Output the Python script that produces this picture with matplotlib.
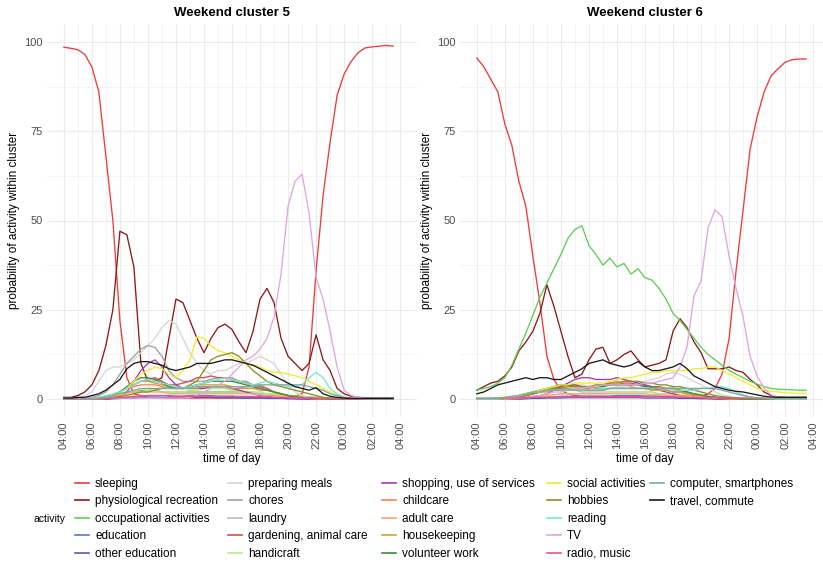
import matplotlib
matplotlib.use("Agg")
import matplotlib.pyplot as plt
from matplotlib.lines import Line2D
import numpy as np

plt.rcParams['font.family'] = ['Liberation Sans', 'DejaVu Sans']

# half-hour steps from 04:00 to 03:30 next day (hours after 04:00)
hours = np.arange(48) * 0.5
tick_hours = list(range(0, 25, 2))
tick_labels = ["04:00", "06:00", "08:00", "10:00", "12:00", "14:00", "16:00",
               "18:00", "20:00", "22:00", "00:00", "02:00", "04:00"]

activities = ["sleeping", "physiological recreation", "occupational activities",
              "education", "other education", "preparing meals", "chores", "laundry",
              "gardening, animal care", "handicraft", "shopping, use of services",
              "childcare", "adult care", "housekeeping", "volunteer work",
              "social activities", "hobbies", "reading", "TV", "radio, music",
              "computer, smartphones", "travel, commute"]
colors = ["#EE3B3B", "#8B1A1A", "#5FCF55", "#6272CC", "#5858B8", "#D6D6D6",
          "#A0A0A0", "#BEBEBE", "#CD4F4F", "#B4EE84", "#A63AC0", "#FF7F50",
          "#FFA07A", "#CDA03C", "#3A8E3A", "#EEEE30", "#8E8E20", "#7AE6D6",
          "#E0A6E0", "#F0508C", "#7FA8A0", "#1A1A1A"]

# ---- cluster 5 ----
sleeping_c5 = [98.5, 98.2, 97.8, 96.5, 93, 86, 68, 50,
               22, 6, 1.5, 1, 0.5, 0.5, 0.4, 0.3,
               0.3, 0.3, 0.3, 0.3, 0.3, 0.3, 0.3, 0.3,
               0.3, 0.3, 0.3, 0.3, 0.3, 0.3, 0.4, 0.5,
               0.5, 0.8, 1.5, 9, 36, 57, 72, 85,
               91, 94.5, 97, 98.3, 98.6, 98.8, 99, 98.8]
physio_c5 = [0.5, 0.5, 1, 2, 4, 8, 15, 25,
             47, 46, 37, 10, 5, 5, 6, 17,
             28, 27, 22, 17, 13, 17, 20, 21,
             19.5, 16, 13, 19, 28, 31, 27, 17,
             12, 10, 8, 10, 18, 11, 8, 3,
             1.5, 0.8, 0.5, 0.4, 0.4, 0.4, 0.4, 0.4]
occupational_c5 = [0.3, 0.3, 0.3, 0.3, 0.5, 0.5, 0.8, 1,
                   1.5, 2, 2, 2.5, 2.5, 2.5, 2, 2,
                   2, 2, 2, 2, 2, 2, 2, 2,
                   2, 2, 2, 2, 1.5, 1.5, 1.5, 1.2,
                   1, 1, 0.8, 0.6, 0.5, 0.4, 0.3, 0.3,
                   0.3, 0.2, 0.2, 0.2, 0.2, 0.2, 0.2, 0.2]
education_c5 = [0, 0, 0, 0, 0, 0, 0, 0.2,
                0.3, 0.5, 0.5, 0.8, 1, 1, 1, 1,
                0.8, 0.8, 1, 1, 1, 1, 0.8, 0.8,
                0.8, 0.6, 0.5, 0.5, 0.5, 0.5, 0.4, 0.3,
                0.3, 0.2, 0.2, 0.1, 0, 0, 0, 0,
                0, 0, 0, 0, 0, 0, 0, 0]
other_education_c5 = [0, 0, 0, 0, 0, 0, 0, 0.1,
                      0.2, 0.3, 0.3, 0.4, 0.5, 0.5, 0.5, 0.4,
                      0.4, 0.4, 0.5, 0.5, 0.5, 0.5, 0.4, 0.4,
                      0.4, 0.3, 0.3, 0.3, 0.3, 0.2, 0.2, 0.2,
                      0.1, 0.1, 0.1, 0, 0, 0, 0, 0,
                      0, 0, 0, 0, 0, 0, 0, 0]
preparing_c5 = [0, 0, 0.3, 1, 2, 5, 8, 9,
                9, 10, 11, 13, 15, 17, 20, 22,
                21, 17, 13, 10, 8, 7, 8, 8,
                9, 10, 10, 11, 12, 11, 10, 7,
                4, 2, 1, 0.5, 0.3, 0.2, 0.1, 0,
                0, 0, 0, 0, 0, 0, 0, 0]
chores_c5 = [0, 0, 0, 0.2, 0.5, 1, 2, 4,
             7, 10, 12, 14, 15, 14.5, 12, 8,
             6, 5, 5, 5, 5, 5.5, 6, 6,
             6, 5, 5, 4, 4, 3, 2, 1.5,
             1, 0.7, 0.5, 0.3, 0.2, 0.1, 0, 0,
             0, 0, 0, 0, 0, 0, 0, 0]
laundry_c5 = [0, 0, 0, 0, 0, 0.2, 0.5, 1,
              2, 3, 4, 5, 5, 5, 4.5, 4,
              3.5, 3, 3, 3, 3, 3, 3, 3,
              2.5, 2.5, 2, 2, 1.5, 1.5, 1, 1,
              0.5, 0.5, 0.3, 0.2, 0.1, 0, 0, 0,
              0, 0, 0, 0, 0, 0, 0, 0]
gardening_c5 = [0, 0, 0, 0, 0, 0.2, 0.5, 1,
                2, 3, 4, 5, 5.5, 6, 5, 4,
                4, 4.5, 5, 6, 6, 6.5, 6, 6,
                5.5, 5, 4.5, 4, 3.5, 3, 2, 1.5,
                1, 0.5, 0.3, 0.2, 0.1, 0, 0, 0,
                0, 0, 0, 0, 0, 0, 0, 0]
handicraft_c5 = [0, 0, 0, 0, 0, 0, 0.2, 0.5,
                 1, 1.5, 2, 2, 2.5, 2.5, 2, 2,
                 2, 2, 2.5, 2.5, 3, 3, 3, 3,
                 2.5, 2.5, 2, 2, 2, 1.5, 1.5, 1,
                 1, 0.5, 0.5, 0.3, 0.2, 0, 0, 0,
                 0, 0, 0, 0, 0, 0, 0, 0]
shopping_c5 = [0, 0, 0, 0, 0, 0, 0.2, 0.3,
               0.5, 2, 5, 8, 10, 11, 9, 6,
               4, 3, 3, 3, 3, 3.5, 3.5, 3.5,
               3, 2.5, 2, 1.5, 1, 0.8, 0.5, 0.3,
               0.2, 0.1, 0, 0, 0, 0, 0, 0,
               0, 0, 0, 0, 0, 0, 0, 0]
childcare_c5 = [0, 0, 0, 0, 0, 0.3, 0.5, 1,
                2, 3, 3.5, 4, 4, 4, 3.5, 3,
                3, 3, 3, 3, 3.5, 3.5, 3.5, 3.5,
                3, 3, 3, 3, 2.5, 2.5, 2, 1.5,
                1, 0.7, 0.5, 0.3, 0.2, 0.1, 0, 0,
                0, 0, 0, 0, 0, 0, 0, 0]
adult_care_c5 = [0, 0, 0, 0, 0, 0.1, 0.3, 0.5,
                 1, 1.5, 2, 2, 2, 2, 2, 1.5,
                 1.5, 1.5, 1.5, 1.5, 1.5, 1.5, 1.5, 1.5,
                 1.5, 1.5, 1.5, 1.5, 1.2, 1, 1, 0.8,
                 0.5, 0.4, 0.3, 0.2, 0.1, 0, 0, 0,
                 0, 0, 0, 0, 0, 0, 0, 0]
housekeeping_c5 = [0, 0, 0, 0, 0, 0.2, 0.5, 1,
                   2, 3, 4, 5, 5, 4.5, 4, 3.5,
                   3, 3, 3.5, 4, 4, 4, 4, 4,
                   3.5, 3.5, 3, 3, 3, 2.5, 2, 1.5,
                   1, 0.7, 0.5, 0.3, 0.2, 0.1, 0, 0,
                   0, 0, 0, 0, 0, 0, 0, 0]
volunteer_c5 = [0, 0, 0, 0, 0, 0.2, 0.5, 1,
                2, 3.5, 5, 6, 6, 5.5, 4.5, 3.5,
                3, 3, 3.5, 4, 4.5, 5, 5, 5,
                5, 4.5, 4, 3.5, 3, 2.5, 2, 1.5,
                1, 0.6, 0.4, 0.3, 0.2, 0.1, 0, 0,
                0, 0, 0, 0, 0, 0, 0, 0]
social_c5 = [0, 0, 0, 0, 0, 0, 0.5, 1,
             1.5, 3, 5, 7, 8, 9, 8.5, 7,
             6, 8, 11, 17.5, 17, 15, 13.5, 13,
             12, 11, 10, 9.5, 9, 8, 7.5, 7.5,
             7, 6.5, 6, 5, 4, 3, 2, 1.2,
             0.5, 0.3, 0.2, 0.1, 0, 0, 0, 0]
hobbies_c5 = [0, 0, 0, 0, 0, 0, 0.2, 0.5,
              0.8, 1, 1.5, 2, 2, 2.5, 3, 3,
              3, 3, 4, 5, 8, 11, 12, 12.5,
              13, 12, 10, 8, 6.5, 5, 4, 3.5,
              3, 2.5, 2, 1.5, 1, 0.5, 0.3, 0.2,
              0, 0, 0, 0, 0, 0, 0, 0]
reading_c5 = [0, 0, 0, 0, 0.2, 0.5, 1, 1.5,
              2, 3, 4, 5, 5.5, 5, 4.5, 4,
              3.5, 3, 3.5, 4, 4.5, 5, 5.5, 6,
              5.5, 5, 4.5, 4, 4.5, 5, 4.5, 4,
              3.5, 3.5, 4, 6, 7.5, 6, 3, 1.5,
              0.5, 0.3, 0.2, 0, 0, 0, 0, 0]
tv_c5 = [0.3, 0.3, 0.3, 0.3, 0.3, 0.3, 0.3, 0.3,
         0.3, 0.3, 0.3, 0.3, 0.3, 0.3, 0.3, 0.3,
         0.3, 0.3, 0.5, 1, 2, 3, 4, 5,
         7, 9, 11, 12, 14, 17, 23, 35,
         54, 61, 63, 52, 34, 28, 19, 9,
         2.5, 1, 0.5, 0.3, 0.3, 0.3, 0.3, 0.3]
radio_c5 = [0, 0, 0, 0, 0, 0.1, 0.2, 0.3,
            0.5, 0.5, 0.8, 0.8, 1, 1, 1, 0.8,
            0.8, 0.8, 0.8, 0.8, 0.8, 0.8, 0.8, 0.8,
            0.8, 0.8, 0.8, 0.7, 0.7, 0.6, 0.5, 0.5,
            0.4, 0.4, 0.3, 0.3, 0.2, 0.2, 0.1, 0.1,
            0, 0, 0, 0, 0, 0, 0, 0]
computer_c5 = [0, 0, 0, 0, 0, 0.3, 0.5, 1,
               1.5, 2, 2.5, 3, 3, 3, 3, 3,
               3, 3, 3, 3.5, 3.5, 3.5, 3.5, 3.5,
               3.5, 3.5, 3.5, 3.5, 4, 4, 4, 4,
               4, 4, 4, 3.5, 3, 2.5, 1.5, 1,
               0.5, 0.3, 0.2, 0.1, 0, 0, 0, 0]
travel_c5 = [0.3, 0.3, 0.5, 0.5, 1, 1.5, 2.5, 4,
             5.5, 8.5, 10, 10.5, 10.5, 10, 9.5, 8.5,
             8, 8.5, 9, 10, 10, 10, 10.5, 11,
             11, 10.5, 10, 9.5, 8.5, 7.5, 6.5, 5.5,
             4.5, 3.5, 3, 2.5, 3.2, 1.5, 0.8, 0.5,
             0.3, 0.2, 0.2, 0.2, 0.2, 0.2, 0.2, 0.2]

# ---- cluster 6 ----
sleeping_c6 = [95.5, 93, 89.5, 86, 77, 71, 61, 54,
               40, 27, 12, 5.5, 2.5, 1.5, 1, 0.8,
               0.8, 0.8, 0.8, 0.8, 0.8, 0.8, 0.8, 0.8,
               0.8, 0.8, 0.8, 0.8, 0.6, 0.6, 0.5, 0.6,
               0.8, 1.5, 3, 7, 17, 36, 53, 70,
               79, 86, 90.5, 92.5, 94.3, 95, 95.2, 95.2]
physio_c6 = [2.5, 3.5, 4.5, 5, 6.5, 9, 13.5, 16,
             19, 24, 32, 26, 19, 12, 6, 7,
             11, 14, 14.5, 10, 11, 12.5, 13.5, 11,
             9, 9.5, 10, 11, 19, 22.5, 20, 16,
             13, 8.5, 8.5, 8.5, 9, 8, 7.5, 5.5,
             4, 2, 1, 0.6, 0.5, 0.5, 0.5, 0.5]
occupational_c6 = [2.5, 3, 3.5, 4.5, 6, 9.5, 14, 18.5,
                   23.5, 28.5, 32.5, 36.5, 40.5, 45, 47.5, 48.5,
                   43, 40.5, 37.5, 39.5, 37, 38, 35, 36.5,
                   34, 33.3, 31, 28, 24, 22, 19.5, 17,
                   14.5, 12.5, 11, 9.5, 8, 7, 6, 5,
                   4.2, 3.5, 3, 2.8, 2.7, 2.6, 2.5, 2.5]
education_c6 = [0, 0, 0, 0, 0, 0, 0.1, 0.2,
                0.3, 0.5, 0.5, 0.6, 0.8, 0.8, 0.8, 0.8,
                0.8, 0.8, 0.8, 0.8, 1, 1, 1, 1,
                0.8, 0.8, 0.8, 0.6, 0.6, 0.5, 0.5, 0.4,
                0.3, 0.3, 0.2, 0.2, 0.1, 0.1, 0, 0,
                0, 0, 0, 0, 0, 0, 0, 0]
other_education_c6 = [0, 0, 0, 0, 0, 0, 0, 0.1,
                      0.2, 0.2, 0.3, 0.3, 0.3, 0.4, 0.4, 0.4,
                      0.4, 0.4, 0.4, 0.4, 0.4, 0.4, 0.4, 0.4,
                      0.3, 0.3, 0.3, 0.3, 0.3, 0.2, 0.2, 0.2,
                      0.1, 0.1, 0.1, 0, 0, 0, 0, 0,
                      0, 0, 0, 0, 0, 0, 0, 0]
preparing_c6 = [0, 0, 0, 0, 0.3, 0.5, 1, 1.5,
                2, 2.5, 3, 3, 3.5, 4, 4, 4,
                3.5, 3, 3, 3, 3.5, 3.5, 4, 4.5,
                5, 5.5, 6, 7, 7.5, 7, 6, 5,
                4, 3, 2, 1.2, 0.8, 0.5, 0.3, 0.2,
                0, 0, 0, 0, 0, 0, 0, 0]
chores_c6 = [0, 0, 0, 0, 0.2, 0.5, 1, 1.5,
             2, 2.5, 3, 3.5, 4, 4, 4, 3.5,
             3.5, 3, 3, 3, 3, 3, 3, 3,
             3, 3, 2.5, 2.5, 2, 2, 1.5, 1,
             1, 0.7, 0.5, 0.3, 0.2, 0.1, 0, 0,
             0, 0, 0, 0, 0, 0, 0, 0]
laundry_c6 = [0, 0, 0, 0, 0, 0.2, 0.5, 1,
              1.5, 2, 2.5, 2.5, 2.5, 2.5, 2.5, 2,
              2, 2, 2, 2, 2, 2, 2, 2,
              2, 2, 1.5, 1.5, 1.5, 1.2, 1, 0.8,
              0.5, 0.4, 0.3, 0.2, 0.1, 0, 0, 0,
              0, 0, 0, 0, 0, 0, 0, 0]
gardening_c6 = [0, 0, 0, 0, 0.2, 0.3, 0.5, 1,
                1.5, 2, 2.5, 3, 3.5, 4, 4, 3.5,
                3.5, 3.5, 4, 4, 4, 4.5, 4.5, 4,
                4, 3.5, 3.5, 3, 3, 2.5, 2, 1.5,
                1, 0.7, 0.5, 0.3, 0.2, 0.1, 0, 0,
                0, 0, 0, 0, 0, 0, 0, 0]
handicraft_c6 = [0, 0, 0, 0, 0, 0, 0.2, 0.3,
                 0.5, 0.8, 1, 1.2, 1.5, 1.5, 1.5, 1.5,
                 1.5, 1.5, 1.5, 2, 2, 2, 2, 2,
                 2, 1.8, 1.5, 1.5, 1.5, 1.2, 1, 0.8,
                 0.6, 0.5, 0.3, 0.2, 0.1, 0, 0, 0,
                 0, 0, 0, 0, 0, 0, 0, 0]
shopping_c6 = [0, 0, 0, 0, 0, 0, 0.2, 0.3,
               0.5, 1, 1.5, 2.5, 3.5, 4.5, 5.5, 6,
               6, 5.5, 5.5, 5.5, 6, 5.5, 5, 4.5,
               4, 3, 2.5, 2, 1.5, 1, 0.8, 0.5,
               0.3, 0.2, 0, 0, 0, 0, 0, 0,
               0, 0, 0, 0, 0, 0, 0, 0]
childcare_c6 = [0, 0, 0, 0, 0.2, 0.4, 0.6, 1,
                1.5, 2, 2, 2.5, 2.5, 2.5, 2.5, 3,
                3, 3.5, 4, 4.5, 5, 4.5, 3.5, 3,
                3, 2.5, 2.5, 2.5, 2, 2, 1.5, 1,
                0.8, 0.5, 0.3, 0.2, 0.1, 0, 0, 0,
                0, 0, 0, 0, 0, 0, 0, 0]
adult_care_c6 = [0, 0, 0, 0, 0, 0.1, 0.3, 0.5,
                 0.8, 1, 1.2, 1.2, 1.5, 1.5, 1.5, 1.5,
                 1.5, 1.5, 1.5, 1.5, 1.5, 1.5, 1.5, 1.5,
                 1.5, 1.2, 1.2, 1.2, 1, 1, 0.8, 0.6,
                 0.5, 0.4, 0.3, 0.2, 0.1, 0, 0, 0,
                 0, 0, 0, 0, 0, 0, 0, 0]
housekeeping_c6 = [0, 0, 0, 0, 0.2, 0.3, 0.5, 1,
                   1.5, 2, 2.5, 3, 3, 3, 3, 3,
                   2.5, 2.5, 2.5, 3, 3, 3, 3, 3,
                   3, 2.5, 2.5, 2.5, 2, 2, 1.5, 1.2,
                   1, 0.7, 0.5, 0.3, 0.2, 0.1, 0, 0,
                   0, 0, 0, 0, 0, 0, 0, 0]
volunteer_c6 = [0, 0, 0, 0, 0.2, 0.5, 1, 1.5,
                2, 2.5, 3, 3.5, 4, 4, 3.5, 3.5,
                3.5, 3.5, 3.5, 4, 4, 4, 4, 4,
                3.5, 3.5, 3, 3, 3, 2.5, 2, 1.5,
                1.2, 0.8, 0.5, 0.3, 0.2, 0.1, 0, 0,
                0, 0, 0, 0, 0, 0, 0, 0]
social_c6 = [0.3, 0.3, 0.3, 0.5, 0.5, 0.8, 1, 1.5,
             2, 2.5, 3, 3.5, 4, 4, 4.5, 4.5,
             4.5, 4.5, 4.5, 5, 5.5, 6, 6, 6.5,
             7, 7.5, 7.5, 8, 8, 8, 8, 8.5,
             8.5, 9, 9, 8, 7, 6, 5, 4,
             3, 2.5, 2.2, 2, 1.8, 1.7, 1.6, 1.6]
hobbies_c6 = [0, 0, 0, 0, 0.2, 0.3, 0.5, 1,
              1.5, 2, 2.5, 3, 3, 3.5, 3.5, 3.5,
              3.5, 4, 4, 4.5, 4.5, 5, 5, 5,
              4.5, 4.5, 4, 4, 3.5, 3.5, 3, 2.5,
              2, 1.5, 1, 0.7, 0.5, 0.3, 0.2, 0.1,
              0, 0, 0, 0, 0, 0, 0, 0]
reading_c6 = [0, 0, 0, 0, 0.2, 0.5, 1, 1.5,
              2, 2, 2.5, 2.5, 2.5, 2.5, 2.5, 2.5,
              2.5, 2.5, 3, 3, 3, 3, 3, 3,
              3, 3, 3, 3, 2.5, 2.5, 2.5, 2.5,
              3, 3, 3.5, 3.5, 3, 2, 1.2, 0.6,
              0.3, 0.2, 0.1, 0, 0, 0, 0, 0]
tv_c6 = [0.3, 0.3, 0.3, 0.3, 0.3, 0.3, 0.5, 0.5,
         0.8, 1, 1.5, 2, 2, 2.5, 3, 3,
         3.5, 3.5, 4, 4, 4, 4, 4, 4,
         4.5, 4.5, 5, 5.5, 6, 9, 14.6, 29,
         33, 48, 53, 51, 40, 31, 23, 12,
         6.5, 3, 1.2, 0.5, 0.3, 0.3, 0.3, 0.3]
radio_c6 = [0.2, 0.2, 0.2, 0.2, 0.3, 0.3, 0.4, 0.5,
            0.5, 0.5, 0.6, 0.6, 0.6, 0.6, 0.6, 0.6,
            0.6, 0.6, 0.6, 0.6, 0.6, 0.6, 0.6, 0.6,
            0.6, 0.6, 0.6, 0.5, 0.5, 0.5, 0.5, 0.5,
            0.4, 0.4, 0.4, 0.3, 0.3, 0.3, 0.3, 0.3,
            0.2, 0.2, 0.2, 0.2, 0.2, 0.2, 0.2, 0.2]
computer_c6 = [0.2, 0.2, 0.2, 0.3, 0.5, 0.8, 1, 1.5,
               2, 2, 2.5, 2.5, 2.5, 2.5, 2.5, 2.5,
               2.5, 2.5, 2.5, 3, 3, 3, 3, 3,
               3, 3, 3, 3, 3, 3, 3, 3,
               3, 3, 3, 2.5, 2, 1.5, 1, 0.6,
               0.4, 0.3, 0.2, 0.2, 0.2, 0.2, 0.2, 0.2]
travel_c6 = [1.5, 2, 3, 4, 4.5, 5, 5.5, 6,
             5.5, 6, 6, 5.5, 5.5, 6.5, 7.5, 8.5,
             10, 10.5, 11, 10, 9.5, 9, 9.5, 10.5,
             9, 8, 8, 8.5, 9, 10, 8.5, 6.5,
             5.5, 4.5, 3.5, 3, 2.5, 2.2, 2, 1.6,
             1.2, 0.8, 0.6, 0.5, 0.5, 0.5, 0.5, 0.5]

cluster5 = [sleeping_c5, physio_c5, occupational_c5, education_c5, other_education_c5,
            preparing_c5, chores_c5, laundry_c5, gardening_c5, handicraft_c5,
            shopping_c5, childcare_c5, adult_care_c5, housekeeping_c5, volunteer_c5,
            social_c5, hobbies_c5, reading_c5, tv_c5, radio_c5, computer_c5, travel_c5]
cluster6 = [sleeping_c6, physio_c6, occupational_c6, education_c6, other_education_c6,
            preparing_c6, chores_c6, laundry_c6, gardening_c6, handicraft_c6,
            shopping_c6, childcare_c6, adult_care_c6, housekeeping_c6, volunteer_c6,
            social_c6, hobbies_c6, reading_c6, tv_c6, radio_c6, computer_c6, travel_c6]

W, H = 823, 563
fig = plt.figure(figsize=(W / 100, H / 100), dpi=100)

panel_bottom = 1 - 417 / H
panel_height = (417 - 24) / H
ax_left = fig.add_axes([47 / W, panel_bottom, 370 / W, panel_height])
ax_right = fig.add_axes([460 / W, panel_bottom, 370 / W, panel_height])

for ax, data, title in [(ax_left, cluster5, "Weekend cluster 5"),
                        (ax_right, cluster6, "Weekend cluster 6")]:
    for series, col in zip(data, colors):
        ax.plot(hours, series, color=col, lw=0.95, solid_joinstyle='round')
    ax.set_xlim(-1.2, 25.2)
    ax.set_ylim(-5, 105)
    ax.set_xticks(tick_hours)
    ax.set_xticklabels(tick_labels, rotation=90)
    ax.set_xticks(range(1, 25, 2), minor=True)
    ax.set_yticks([0, 25, 50, 75, 100])
    ax.set_yticks([12.5, 37.5, 62.5, 87.5], minor=True)
    ax.grid(which='major', color='#EBEBEB', lw=0.8)
    ax.grid(which='minor', color='#F2F2F2', lw=0.6)
    ax.set_axisbelow(True)
    for s in ax.spines.values():
        s.set_visible(False)
    ax.tick_params(which='both', length=0, labelsize=8, labelcolor='#4D4D4D', pad=3)
    ax.set_xlabel("time of day", fontsize=8.5, labelpad=3)
    ax.set_ylabel("probability of activity within cluster", fontsize=8.5, labelpad=3)
    ax.set_title(title, fontsize=9.5, fontweight='bold', pad=6)

# legend: five columns of keys, title on the left
handles = [Line2D([0], [0], color=c, lw=1.2) for c in colors]
col_x = [75, 228, 382, 547, 650]
for i, x in enumerate(col_x):
    fig.legend(handles[i * 5:(i + 1) * 5], activities[i * 5:(i + 1) * 5],
               loc='upper left', bbox_to_anchor=(x / W, 1 - 478 / H),
               frameon=False, fontsize=8.5, borderpad=0, borderaxespad=0,
               handlelength=1.15, handletextpad=0.55, labelspacing=0.46)
fig.text(33 / W, 1 - 519 / H, "activity", fontsize=7.5, va='center', ha='left')

fig.savefig("out.png", dpi=100)
